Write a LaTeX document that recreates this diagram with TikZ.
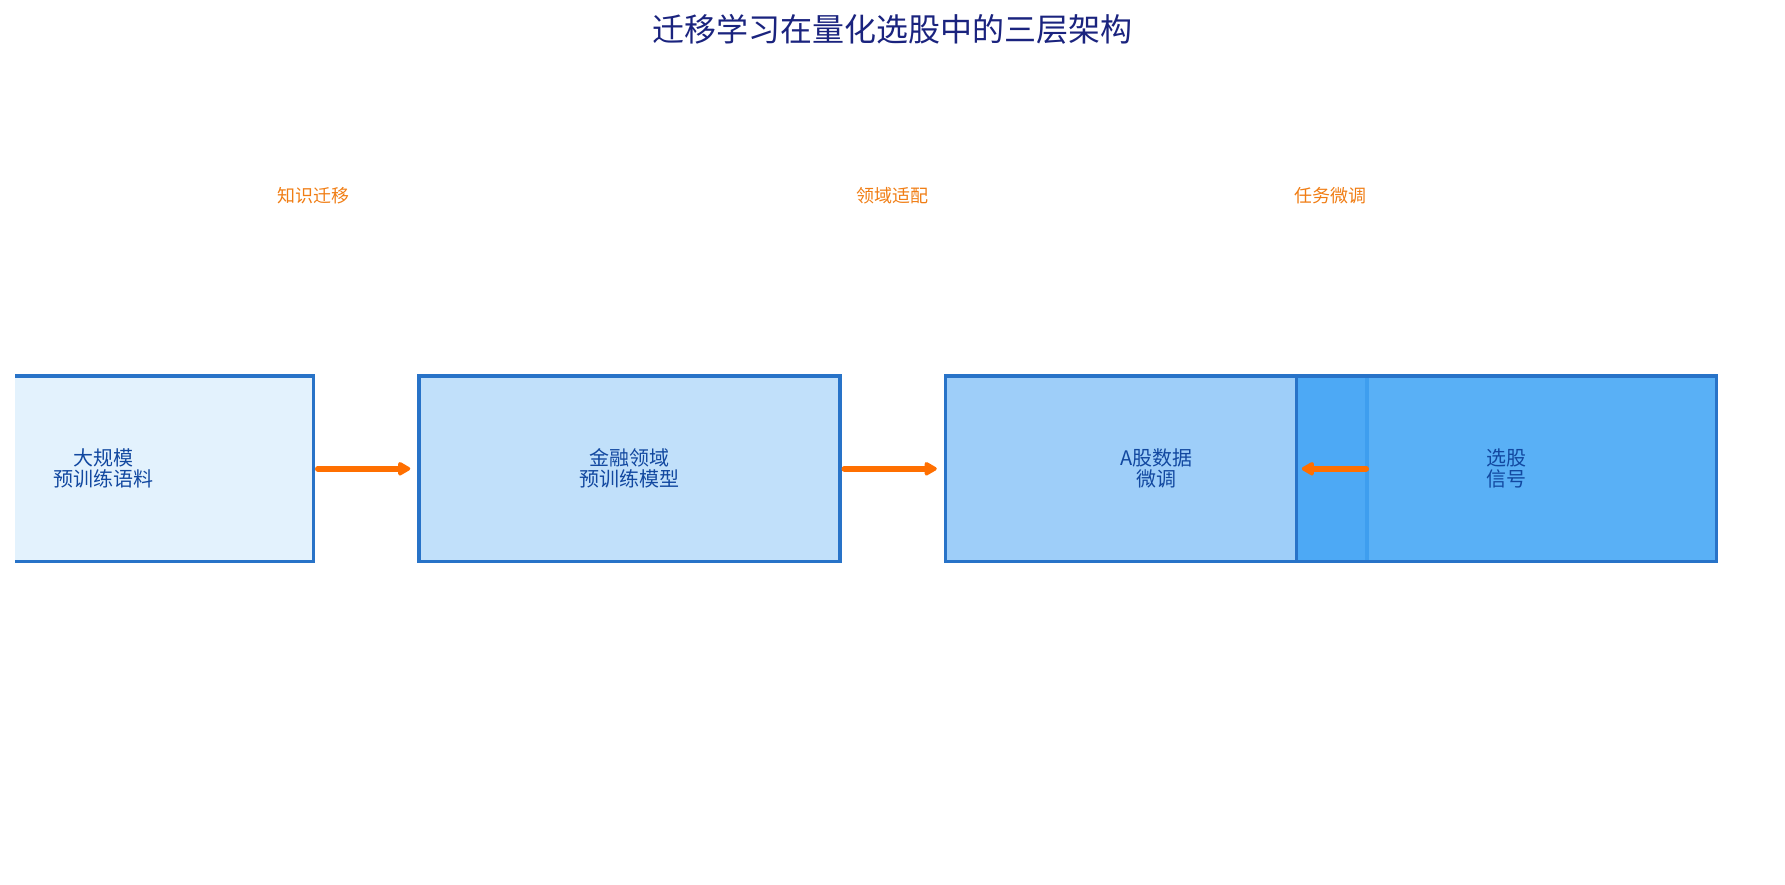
\documentclass[tikz,border=0pt]{standalone}
\usepackage{fontspec}
\setmainfont{Noto Sans CJK SC}
\usetikzlibrary{arrows.meta}
\definecolor{boxline}{RGB}{40,115,200}
\definecolor{boxtext}{RGB}{18,72,160}
\definecolor{titlecol}{RGB}{26,35,126}
\definecolor{labcol}{RGB}{240,125,20}
\definecolor{arrcol}{RGB}{255,111,0}
\definecolor{cA}{RGB}{227,242,253}
\definecolor{cB}{RGB}{193,224,250}
\definecolor{cC}{RGB}{158,206,249}
\definecolor{cD}{RGB}{66,165,245}
\tikzset{
  box/.style={draw=boxline, line width=3.5pt, inner sep=0pt, align=center,
    minimum height=185.5pt, text=boxtext, font=\fontsize{20}{21}\selectfont},
  lab/.style={text=labcol, font=\fontsize{18}{20}\selectfont, inner sep=0pt},
  arr/.style={draw=arrcol, line width=5.5pt, line cap=round,
    -{Triangle[length=14pt,width=15pt,round]}, shorten >=7pt, shorten <=2.5pt}
}
\begin{document}
\begin{tikzpicture}[x=1pt,y=-1pt]
\useasboundingbox (0,0) rectangle (1785,884);
\node[text=titlecol, font=\fontsize{32}{36}\selectfont, inner sep=0pt] (title) at (892,29) {迁移学习在量化选股中的三层架构};

\begin{scope}
\clip (15,0) rectangle (1785,884);
\node[box, fill=cA, minimum width=421pt] (b1) at (103,468.75) {大规模\\预训练语料};
\end{scope}
\node[box, fill=cB, minimum width=421pt] (b2) at (629.5,468.75) {金融领域\\预训练模型};
\node[box, fill=cC, minimum width=421.5pt] (b3) at (1156.25,468.75) {A股数据\\微调};
\node[box, fill=cD, fill opacity=0.88, text opacity=1, minimum width=420pt] (b4) at (1506.5,468.75) {选股\\信号};

\draw[arr] (b1.east) -- (b2.west);
\draw[arr] (b2.east) -- (b3.west);
\draw[arr] (b3.east) -- (b4.west);

\node[lab] (l1) at (313,196) {知识迁移};
\node[lab] (l2) at (892,196) {领域适配};
\node[lab] (l3) at (1330,196) {任务微调};
\end{tikzpicture}
\end{document}
